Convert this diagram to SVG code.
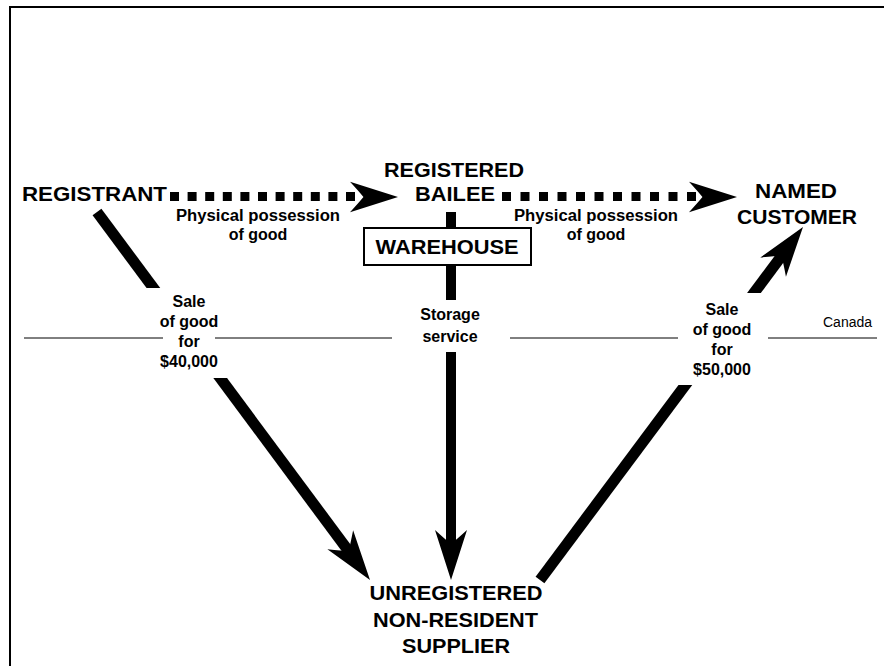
<svg xmlns="http://www.w3.org/2000/svg" xmlns:xlink="http://www.w3.org/1999/xlink" width="884" height="666" viewBox="0 0 884 666">
  <style>
    .big { font-family: "Liberation Sans", Arial, sans-serif; font-weight: bold; font-size: 21px; text-anchor: middle; fill: #000; }
    .small { font-family: "Liberation Sans", Arial, sans-serif; font-weight: bold; font-size: 16px; text-anchor: middle; fill: #000; }
    .note { font-family: "Liberation Sans", Arial, sans-serif; font-size: 14px; fill: #000; }
    .thick { stroke: #000; fill: none; stroke-linecap: butt; }
    .dots { stroke: #000; stroke-width: 9; fill: none; }
    .thin { stroke: #000; stroke-width: 1; fill: none; }
  </style>
  <defs>
    <path id="head" d="M0,0 L-50,-16 Q-40,-5 -36,0 Q-40,5 -50,16 Z" fill="#000"/>
    <mask id="gaps" maskUnits="userSpaceOnUse" x="0" y="0" width="884" height="666">
      <rect x="0" y="0" width="884" height="666" fill="#fff"/>
      <rect x="130" y="288" width="110" height="90" fill="#000"/>
      <rect x="400" y="300" width="100" height="52" fill="#000"/>
      <rect x="660" y="293" width="120" height="92" fill="#000"/>
    </mask>
  </defs>
  <rect x="0" y="0" width="884" height="666" fill="#fff"/>
  <path d="M10,666 V7 H884" fill="none" stroke="#000" stroke-width="2"/>

  <g id="border-line">
    <line class="thin" x1="24" y1="338" x2="163" y2="338"/>
    <line class="thin" x1="215" y1="338" x2="392" y2="338"/>
    <line class="thin" x1="510" y1="338" x2="678" y2="338"/>
    <line class="thin" x1="768" y1="338" x2="877" y2="338"/>
    <text class="note" x="823" y="327">Canada</text>
  </g>

  <g id="connectors">
    <g mask="url(#gaps)">
      <line class="thick" stroke-width="11" x1="97" y1="212" x2="350" y2="553"/>
      <line class="thick" stroke-width="10" x1="451" y1="212" x2="451" y2="548"/>
      <line class="thick" stroke-width="11" x1="540" y1="580" x2="783" y2="254"/>
    </g>
    <use xlink:href="#head" href="#head" transform="translate(370,580) rotate(53.5)"/>
    <use xlink:href="#head" href="#head" transform="translate(451,580) rotate(90)"/>
    <use xlink:href="#head" href="#head" transform="translate(803,227) rotate(-53.3)"/>
    <line class="dots" x1="170" y1="196.5" x2="355" y2="196.5" stroke-dasharray="9 8.6"/>
    <use xlink:href="#head" href="#head" transform="translate(398,197) scale(0.96,0.95)"/>
    <line class="dots" x1="502" y1="196.5" x2="696" y2="196.5" stroke-dasharray="9 9.5"/>
    <use xlink:href="#head" href="#head" transform="translate(737,197) scale(0.96,0.95)"/>
  </g>

  <g id="registrant">
    <text class="big" x="94.5" y="201" textLength="145" lengthAdjust="spacingAndGlyphs">REGISTRANT</text>
  </g>
  <g id="registered-bailee">
    <text class="big" x="454" y="177" textLength="140" lengthAdjust="spacingAndGlyphs">REGISTERED</text>
    <text class="big" x="455" y="201" textLength="80" lengthAdjust="spacingAndGlyphs">BAILEE</text>
  </g>
  <g id="warehouse">
    <rect x="364" y="228" width="167" height="37" fill="#fff" stroke="#000" stroke-width="2"/>
    <text class="big" x="447" y="254" textLength="143" lengthAdjust="spacingAndGlyphs">WAREHOUSE</text>
  </g>
  <g id="named-customer">
    <text class="big" x="796" y="198" textLength="82" lengthAdjust="spacingAndGlyphs">NAMED</text>
    <text class="big" x="797" y="224" textLength="120" lengthAdjust="spacingAndGlyphs">CUSTOMER</text>
  </g>
  <g id="supplier">
    <text class="big" x="456" y="600" textLength="173" lengthAdjust="spacingAndGlyphs">UNREGISTERED</text>
    <text class="big" x="455.5" y="627" textLength="165" lengthAdjust="spacingAndGlyphs">NON-RESIDENT</text>
    <text class="big" x="456" y="653" textLength="108" lengthAdjust="spacingAndGlyphs">SUPPLIER</text>
  </g>

  <g id="labels">
    <text class="small" x="258" y="221" textLength="164" lengthAdjust="spacingAndGlyphs">Physical possession</text>
    <text class="small" x="258" y="240">of good</text>
    <text class="small" x="596" y="221" textLength="164" lengthAdjust="spacingAndGlyphs">Physical possession</text>
    <text class="small" x="596" y="240">of good</text>
    <text class="small" x="450" y="320">Storage</text>
    <text class="small" x="450" y="342">service</text>
    <text class="small" x="189" y="307">Sale</text>
    <text class="small" x="189" y="327">of good</text>
    <text class="small" x="189" y="347">for</text>
    <text class="small" x="189" y="367">$40,000</text>
    <text class="small" x="722" y="315">Sale</text>
    <text class="small" x="722" y="335">of good</text>
    <text class="small" x="722" y="355">for</text>
    <text class="small" x="722" y="375">$50,000</text>
  </g>
</svg>
